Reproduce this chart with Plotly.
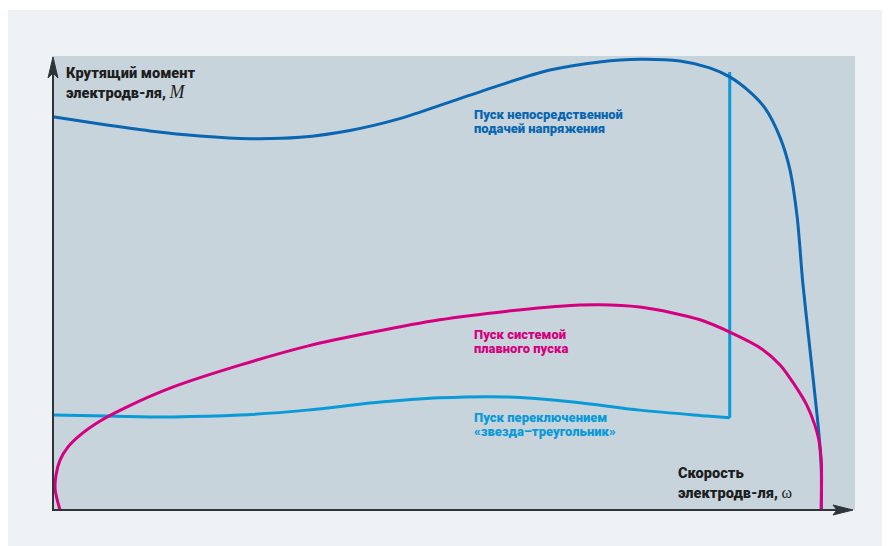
import plotly.graph_objects as go

# ---- data (x: motor speed, % of plot width; y: torque, % of plot height) ----
direct_x = [0.1, 6.0, 12.2, 18.4, 24.7, 30.9, 37.1, 43.3, 49.6, 55.8, 62.0, 68.2, 73.2, 78.2, 81.9, 84.4, 86.9, 88.8, 90.7, 91.9, 92.8, 93.5, 94.4, 95.3, 95.6, 95.8, 95.8]
direct_y = [86.6, 85.0, 83.5, 82.4, 81.8, 82.1, 83.6, 86.2, 89.9, 93.6, 96.9, 98.7, 99.3, 98.9, 97.4, 95.4, 92.1, 88.5, 81.9, 74.9, 64.5, 50.0, 35.2, 20.5, 14.8, 8.8, 0.0]

soft_x = [1.0, 0.4, 0.5, 1.0, 2.0, 3.5, 6.0, 9.1, 15.1, 23.4, 31.8, 40.0, 48.3, 56.7, 63.3, 68.2, 73.2, 77.3, 80.7, 84.4, 88.2, 90.7, 92.5, 94.0, 95.0, 95.5, 95.8, 95.8]
soft_y = [0.0, 4.4, 7.7, 11.0, 13.9, 16.5, 19.6, 22.5, 27.1, 31.9, 36.1, 39.2, 41.9, 43.8, 44.9, 45.2, 44.7, 43.4, 41.9, 39.2, 35.7, 31.9, 27.5, 23.1, 18.7, 15.4, 11.0, 0.0]

star_x = [0.1, 6.9, 15.1, 23.4, 31.8, 40.0, 48.3, 56.7, 64.9, 73.2, 81.6, 84.4]
star_y = [20.9, 20.7, 20.5, 20.9, 22.0, 23.6, 24.7, 24.9, 23.8, 22.0, 20.7, 20.3]
switch_x = [84.4, 84.4]
switch_y = [20.3, 96.5]

C_DIRECT = "#0a66b0"
C_STAR = "#0a9ad8"
C_SOFT = "#d4007f"
C_AXIS = "#2e3439"
C_TEXT = "#1e1e1e"
FONT = "Roboto"

fig = go.Figure()
fig.add_trace(go.Scatter(x=star_x, y=star_y, mode="lines",
                         line=dict(color=C_STAR, width=3, shape="spline", smoothing=1.0), hoverinfo="skip"))
fig.add_trace(go.Scatter(x=switch_x, y=switch_y, mode="lines",
                         line=dict(color=C_STAR, width=3), hoverinfo="skip"))
fig.add_trace(go.Scatter(x=direct_x, y=direct_y, mode="lines",
                         line=dict(color=C_DIRECT, width=3, shape="spline", smoothing=0.8), hoverinfo="skip"))
fig.add_trace(go.Scatter(x=soft_x, y=soft_y, mode="lines",
                         line=dict(color=C_SOFT, width=3, shape="spline", smoothing=0.8), hoverinfo="skip"))

shapes = [
    # outer light panel
    dict(type="rect", xref="paper", yref="paper", x0=-0.06, x1=1.05, y0=-0.09, y1=1.1013,
         fillcolor="#eef2f5", line=dict(width=0), layer="below"),
    # plot area
    dict(type="rect", xref="paper", yref="paper", x0=0, x1=1, y0=0, y1=1,
         fillcolor="#c7d4dc", line=dict(width=0), layer="below"),
    # axes
    dict(type="line", xref="paper", yref="paper", x0=0.00125, x1=0.00125, y0=0, y1=0.985,
         line=dict(color=C_AXIS, width=2)),
    dict(type="line", xref="paper", yref="paper", x0=0, x1=0.985, y0=0, y1=0,
         line=dict(color=C_AXIS, width=2)),
    # arrowheads
    dict(type="path", xref="paper", yref="paper",
         path="M 0.00125 0.9978 L -0.00498 0.9515 L 0.00125 0.9626 L 0.00747 0.9515 Z",
         fillcolor=C_AXIS, line=dict(color=C_AXIS, width=1)),
    dict(type="path", xref="paper", yref="paper",
         path="M 0.99751 0 L 0.97260 0.01101 L 0.97758 0 L 0.97260 -0.01101 Z",
         fillcolor=C_AXIS, line=dict(color=C_AXIS, width=1)),
]

def lab(text, x, y, color, size):
    return dict(text=text, x=x, y=y, xref="paper", yref="paper", xanchor="left", yanchor="middle",
                showarrow=False, borderpad=0,
                font=dict(family=FONT, size=size, color=color, weight=900))

serif = "font-family:'Liberation Serif';font-weight:normal"
annotations = [
    lab("Крутящий момент", 0.0162, 0.9626, C_TEXT, 14.6),
    lab("электродв-ля, <span style=\"" + serif + ";font-style:italic;font-size:18px\">M</span>",
        0.0162, 0.9207, C_TEXT, 14.6),
    lab("Пуск непосредственной", 0.5243, 0.8720, C_DIRECT, 13),
    lab("подачей напряжения", 0.5243, 0.8412, C_DIRECT, 13),
    lab("Пуск системой", 0.5243, 0.3870, C_SOFT, 13),
    lab("плавного пуска", 0.5243, 0.3562, C_SOFT, 13),
    lab("Пуск переключением", 0.5243, 0.2040, C_STAR, 13),
    lab("«звезда–треугольник»", 0.5243, 0.1732, C_STAR, 13),
    lab("Скорость", 0.7783, 0.0815, C_TEXT, 14.6),
    lab("электродв-ля, <span style=\"" + serif + ";font-size:16px\">ω</span>",
        0.7783, 0.0374, C_TEXT, 14.6),
]

fig.update_layout(
    width=882, height=538,
    margin=dict(l=44, r=35, t=48, b=36),
    paper_bgcolor="#ffffff",
    plot_bgcolor="rgba(0,0,0,0)",
    showlegend=False,
    xaxis=dict(range=[0, 100], visible=False, fixedrange=True),
    yaxis=dict(range=[0, 100], visible=False, fixedrange=True),
    shapes=shapes,
    annotations=annotations,
)

fig.write_html("out.html")
